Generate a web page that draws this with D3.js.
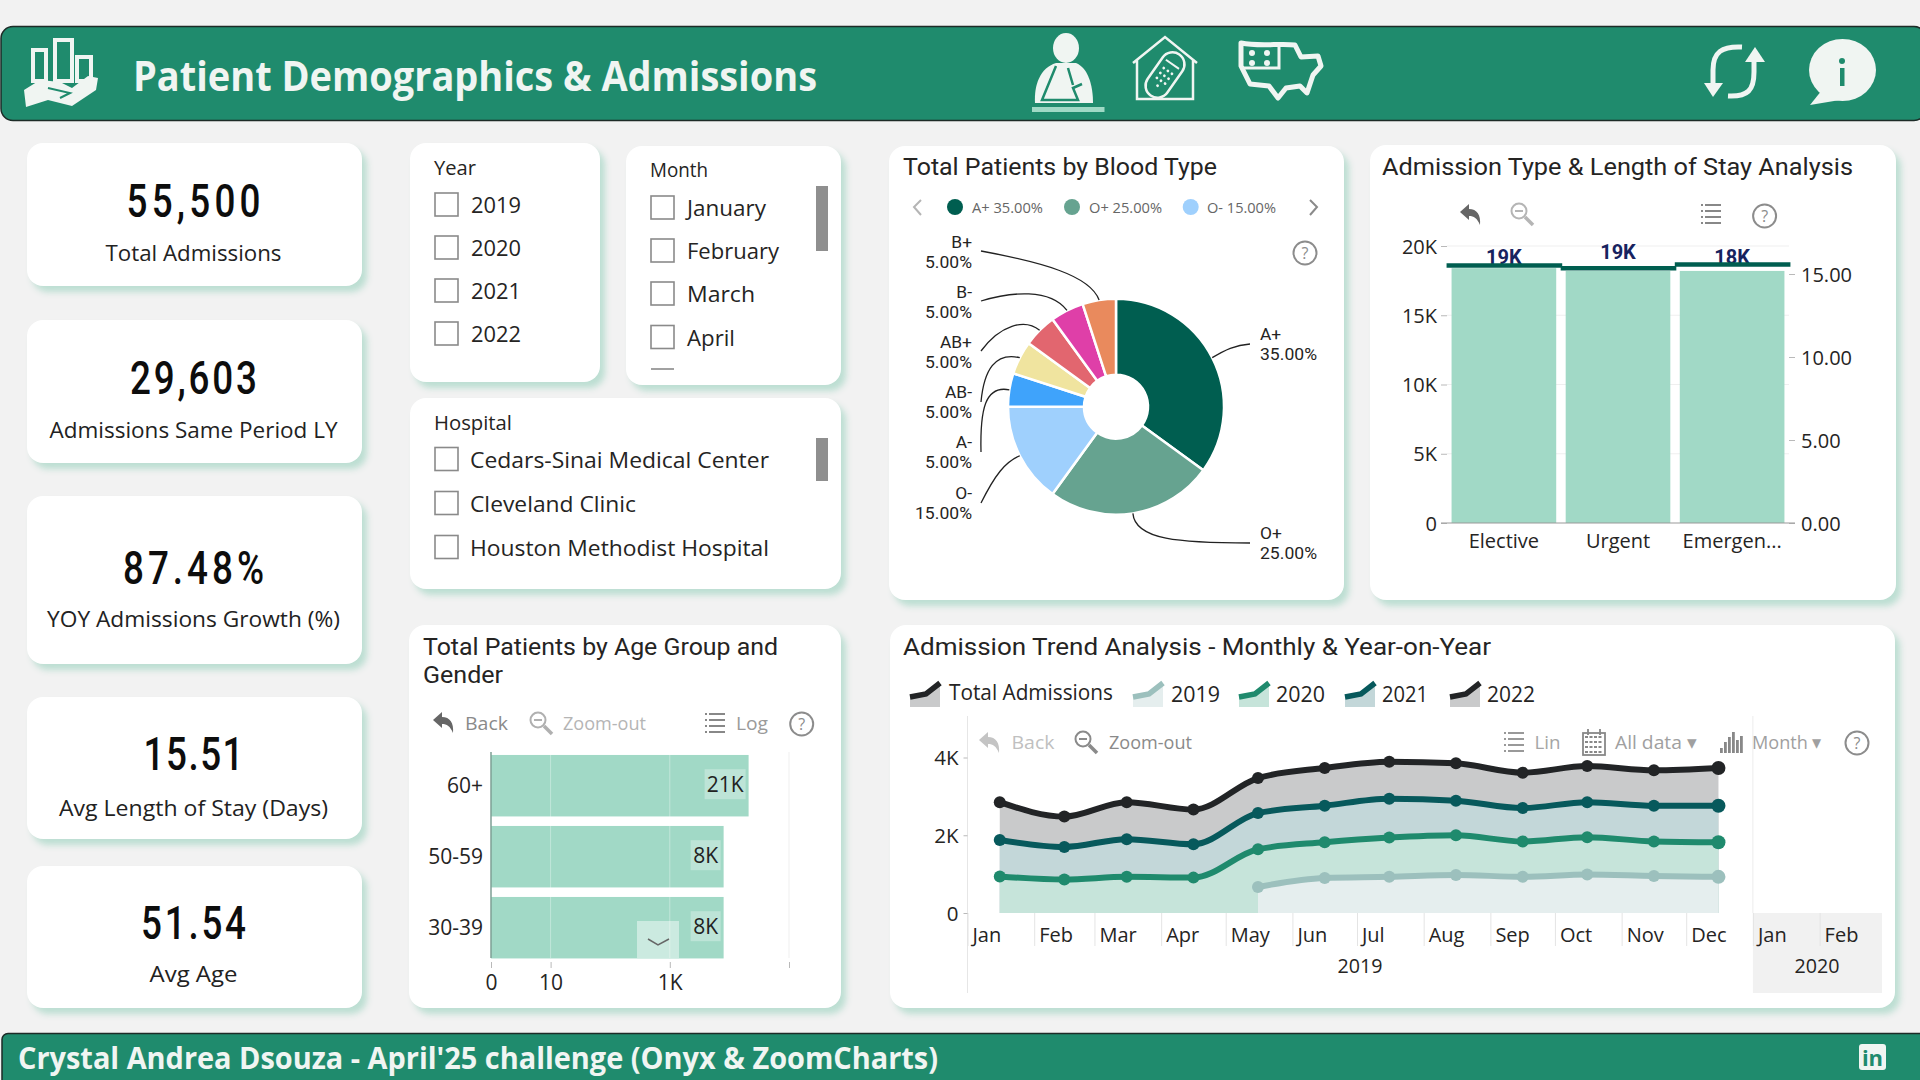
<!DOCTYPE html>
<html><head><meta charset="utf-8">
<script src="https://cdn.jsdelivr.net/npm/d3@7/dist/d3.min.js"></script>
<style>html,body{margin:0;padding:0;background:#f2f2f2;overflow:hidden}svg{display:block}</style>
</head><body><svg id="c" width="1920" height="1080"></svg>
<script>
// ---------- data ----------
const kpiValues=["55,500","29,603","87.48%","15.51","51.54"];
const kpiLabels=["Total Admissions","Admissions Same Period LY","YOY Admissions Growth (%)","Avg Length of Stay (Days)","Avg Age"];
const years=["2019","2020","2021","2022"];
const monthsSlicer=["January","February","March","April"];
const hospitals=["Cedars-Sinai Medical Center","Cleveland Clinic","Houston Methodist Hospital"];
const bloodTypes=["A+","O+","O-","A-","AB-","AB+","B-","B+"];
const bloodShares=[35,25,15,5,5,5,5,5];
const bloodColors=["#005e50","#66a390","#9fd0fd","#3fa3fb","#f0e49f","#e2666f","#df3fa8","#e98a5d"];
const admissionTypes=["Elective","Urgent","Emergen..."];
const admissionCounts=[18400,18200,18200];
const admissionLabels=["19K","19K","18K"];
const stayDays=[15.51,15.35,15.57];
const ageGroups=["60+","50-59","30-39"];
const agePatients=[21000,8000,8000];
const ageLabels=["21K","8K","8K"];
const trendMonths=["2019-01-16","2019-02-15","2019-03-16","2019-04-16","2019-05-16","2019-06-16","2019-07-16","2019-08-16","2019-09-16","2019-10-16","2019-11-16","2019-12-16"];
const admissions2019=[0,0,0,0,670,900,930,980,930,990,950,930];
const admissions2020=[940,860,930,910,970,920,1010,1020,910,960,890,890];
const admissions2021=[940,840,970,860,930,940,1000,890,860,900,920,940];
const admissions2022=[970,780,950,890,900,970,950,960,910,930,910,970];
const trendYears=["2019","2020","2021","2022"];
const trendLine={"2019":"#9cc0bd","2020":"#1f8a6d","2021":"#07595c","2022":"#222426"};
const trendFill={"2019":"#e5eeee","2020":"#c6e4da","2021":"#c3d7d9","2022":"#c9cacb"};

// ---------- helpers ----------
const SEGOE='"Open Sans","Noto Sans",sans-serif', DIN='Roboto,"Liberation Sans",sans-serif';
const svg=d3.select("#c");
svg.append("rect").attr("width",1920).attr("height",1080).attr("fill","#f2f2f2");
function T(x,y,s,o={}){
  const fam=o.f||SEGOE;
  const t=(o.g||svg).append("text").attr("x",x).attr("y",fam===SEGOE?y-1:y).text(s)
   .attr("dominant-baseline","central")
   .attr("font-family",fam).attr("font-size",o.s||20).attr("font-weight",o.b||400)
   .attr("fill",o.c||"#252423").attr("text-anchor",o.a||"start");
  if(o.w) t.attr("textLength",o.w).attr("lengthAdjust","spacingAndGlyphs");
  return t;
}
function card(x0,y0,x1,y1){
  svg.append("rect").attr("x",x0).attr("y",y0).attr("width",x1-x0).attr("height",y1-y0).attr("rx",16)
   .attr("fill","#fff").style("filter","drop-shadow(5px 6px 3px #bcded2)");
}
function help(x,y){
  svg.append("circle").attr("cx",x).attr("cy",y).attr("r",11.5).attr("fill","#fff").attr("stroke","#8c8c8c").attr("stroke-width",2);
  T(x,y+1,"?",{a:"middle",s:16,c:"#8c8c8c",f:SEGOE});
}
function backIcon(x,y,col){
  svg.append("path").attr("transform",`translate(${x},${y})`).attr("fill",col)
   .attr("d","M-11 -3 L-2 -11 L-2 -6 C6 -6 10 0 9 10 C6 3 3 1 -2 1 L-2 5 Z");
}
function zoomIcon(x,y,col){
  const g=svg.append("g").attr("transform",`translate(${x},${y})`).attr("fill","none").attr("stroke",col);
  g.append("circle").attr("cx",-3).attr("cy",-3).attr("r",7.5).attr("stroke-width",2);
  g.append("path").attr("d","M3 3 L11 11").attr("stroke-width",3.5);
  g.append("path").attr("d","M-7 -3 H1").attr("stroke-width",2);
}
function listIcon(x,y,col){
  const g=svg.append("g").attr("transform",`translate(${x},${y})`).attr("stroke",col).attr("stroke-width",2);
  [-9,-3,3,9].forEach(d=>g.append("path").attr("d",`M-10 ${d} H-8 M-6 ${d} H10`));
}
function calIcon(x,y,col){
  const g=svg.append("g").attr("transform",`translate(${x},${y})`).attr("fill","none").attr("stroke",col).attr("stroke-width",1.8);
  g.append("rect").attr("x",-11).attr("y",-10).attr("width",22).attr("height",22);
  d3.range(-6,12,5).forEach(d=>g.append("path").attr("d",`M-9 ${d} H9`).attr("stroke-dasharray","3 1.5"));
  g.append("path").attr("d","M-6 -14 V-8 M6 -14 V-8");
}
function barsIcon(x,y,col){
  const g=svg.append("g").attr("transform",`translate(${x},${y})`).attr("fill",col);
  [[-11,5],[-7,-1],[-3,-6],[1,-11],[5,-3],[9,-7]].forEach(d=>g.append("rect").attr("x",d[0]).attr("y",d[1]).attr("width",2.8).attr("height",10-d[1]));
}

// ---------- header ----------
const W="#f0f5f2",G="#1f8b6d";
svg.append("rect").attr("x",1).attr("y",26.5).attr("width",1925).attr("height",94).attr("rx",12).attr("fill",G).attr("stroke","#1d2b27").attr("stroke-width",1.5);
T(133,76,"Patient Demographics & Admissions",{s:41,b:700,c:W,w:684});
// logo
[[33,50,13,31],[55,40,17,41],[77,57,14,24]].forEach(r=>svg.append("rect").attr("x",r[0]).attr("y",r[1]).attr("width",r[2]).attr("height",r[3]).attr("fill","none").attr("stroke",W).attr("stroke-width",4));
svg.append("path").attr("fill",W).attr("d","M24 90 L40 80 L60 82 L72 88 L88 76 L98 78 L96 90 L72 106 L48 100 L26 107 Z");
svg.append("path").attr("fill","none").attr("stroke",G).attr("stroke-width",2).attr("d","M48 88 L70 93 L60 98");
// patient
svg.append("ellipse").attr("cx",1066).attr("cy",48).attr("rx",13).attr("ry",15).attr("fill",W);
svg.append("path").attr("fill",W).attr("d","M1035 103 C1034 85 1040 68 1056 63 L1076 63 C1088 68 1093 85 1093 103 Z");
svg.append("path").attr("fill","none").attr("stroke",G).attr("stroke-width",2.5).attr("d","M1056 66 L1042 100 L1078 100 L1073 88 L1082 84 M1073 85 L1068 68");
svg.append("rect").attr("x",1032).attr("y",107).attr("width",72.5).attr("height",5).attr("fill","#9fd9c5");
// hospital
svg.append("path").attr("fill","none").attr("stroke",W).attr("stroke-width",2.5).attr("d","M1133 63 L1165 37 L1197 63 M1137 60 V99 H1193 V60");
svg.append("g").attr("transform","rotate(35 1165 75)").call(g=>{
  g.append("rect").attr("x",1153).attr("y",50).attr("width",24).attr("height",50).attr("rx",12).attr("fill","none").attr("stroke",W).attr("stroke-width",2.5);
  g.append("path").attr("d","M1157 62 H1173").attr("stroke",W).attr("stroke-width",2);
  [[1160,70],[1165,70],[1170,70],[1160,76],[1165,76],[1170,76],[1160,82],[1165,82],[1170,82],[1165,88]].forEach(p=>g.append("circle").attr("cx",p[0]).attr("cy",p[1]).attr("r",1.4).attr("fill",W));
});
// map
svg.append("path").attr("fill","none").attr("stroke",W).attr("stroke-width",5).attr("stroke-linejoin","round")
 .attr("d","M1241 43 C1260 47 1280 43 1295 45 L1301 57 L1318 56 L1321 66 L1313 75 L1307 93 L1300 86 L1286 88 L1278 98 L1269 86 L1250 84 L1241 66 Z");
svg.append("path").attr("fill","none").attr("stroke",W).attr("stroke-width",3).attr("d","M1242 68 H1279 V44");
[1252,1267].forEach(x=>[53,63].forEach(y=>svg.append("circle").attr("cx",x).attr("cy",y).attr("r",3).attr("fill",W)));
// refresh
svg.append("path").attr("fill","none").attr("stroke",W).attr("stroke-width",5).attr("d","M1742 47 C1722 46 1713 52 1713 70 V86");
svg.append("path").attr("fill",W).attr("d","M1704 83 H1723 L1713 97 Z");
svg.append("path").attr("fill","none").attr("stroke",W).attr("stroke-width",5).attr("d","M1728 96 C1748 97 1754 90 1754 72 V60");
svg.append("path").attr("fill",W).attr("d","M1745 62 H1765 L1755 47 Z");
// info
svg.append("ellipse").attr("cx",1842.5).attr("cy",70).attr("rx",33.5).attr("ry",31).attr("fill",W);
svg.append("path").attr("fill",W).attr("d","M1822 90 L1810 105 L1840 100 Z");
svg.append("rect").attr("x",1840).attr("y",68).attr("width",4.5).attr("height",18).attr("fill",G);
svg.append("circle").attr("cx",1842).attr("cy",61).attr("r",3).attr("fill",G);

// ---------- footer ----------
svg.append("rect").attr("x",2).attr("y",1033.5).attr("width",1925).attr("height",60).attr("rx",6).attr("fill",G).attr("stroke","#1d2b27").attr("stroke-width",1.5);
T(18,1058,"Crystal Andrea Dsouza - April'25 challenge (Onyx & ZoomCharts)",{s:31,b:700,c:W,w:920});
svg.append("rect").attr("x",1859).attr("y",1044).attr("width",27).attr("height",26).attr("rx",3).attr("fill",W);
T(1872.5,1058,"in",{a:"middle",s:22,b:700,c:G});

// ---------- KPI cards ----------
const kpiBox=[[143,286,201,253,134,176],[320,463,378,430,127,288],[496,664,568,619,141,293],[697,839,754,808,100,269],[866,1008,923,974,105,88]];
const kpiSquash=.8;
kpiValues.forEach((v,i)=>{
  const b=kpiBox[i]; card(27,b[0],362,b[1]);
  svg.append("text").attr("transform",`translate(193.5,${b[2]}) scale(${kpiSquash},1)`).text(v)
   .attr("dominant-baseline","central").attr("text-anchor","middle").attr("font-family",DIN).attr("font-size",46)
   .attr("font-weight",500).attr("fill","#0d0d0d")
   .attr("textLength",b[4]/kpiSquash).attr("lengthAdjust","spacing");
  T(193.5,b[3],kpiLabels[i],{a:"middle",s:22.5,c:"#222",w:b[5]});
});

// ---------- slicers ----------
function box(x,y){svg.append("rect").attr("x",x).attr("y",y).attr("width",23).attr("height",23).attr("fill","#fff").attr("stroke","#8a8a8a").attr("stroke-width",1.6);}
card(410,143,600,382);
T(434,168,"Year",{s:20,f:SEGOE,w:42});
years.forEach((y,i)=>{const t=[193,236,279,322][i];box(435,t);T(471,t+12,y,{s:22.5,w:50});});
card(626,146,841,385);
T(650,170,"Month",{s:20,w:58});
monthsSlicer.forEach((m,i)=>{const t=[196,239,282,325.5][i];box(651,t);T(687,t+12.5,m,{s:22.5,w:[79,92,68,48][i]});});
svg.append("path").attr("d","M651 369 H674").attr("stroke","#8a8a8a").attr("stroke-width",1.6);
svg.append("rect").attr("x",816).attr("y",186).attr("width",12).attr("height",65).attr("fill","#8f8f8f");
card(410,398,841,589);
T(434,423,"Hospital",{s:20,w:78});
hospitals.forEach((h,i)=>{const c=[459,503,547][i];box(435,c-11.5);T(470,c+1,h,{s:22.5,w:[299,166,299][i]});});
svg.append("rect").attr("x",816).attr("y",438).attr("width",12).attr("height",43).attr("fill","#8f8f8f");

// ---------- blood type donut ----------
card(889,146,1344,600);
T(903,167,"Total Patients by Blood Type",{s:24,f:DIN,w:314});
[[955,972,71,0],[1072,1089,73,1],[1190.7,1207,69,2]].forEach(l=>{
  svg.append("circle").attr("cx",l[0]).attr("cy",207).attr("r",8).attr("fill",bloodColors[l[3]]);
  T(l[1],208,`${bloodTypes[l[3]]} ${bloodShares[l[3]].toFixed(2)}%`,{s:14.5,c:"#666",w:l[2]});
});
svg.append("path").attr("fill","none").attr("stroke","#b5b5b5").attr("stroke-width",2).attr("d","M921 200 L914 207 L921 215");
svg.append("path").attr("fill","none").attr("stroke","#8a8a8a").attr("stroke-width",2).attr("d","M1310 200 L1317 207 L1310 215");
help(1305,253);
const cx=1116,cy=406.7,Ro=108,Ri=32;
const pie=d3.pie().sort(null)(bloodShares);
const arc=d3.arc().innerRadius(Ri).outerRadius(Ro);
const pg=svg.append("g").attr("transform",`translate(${cx},${cy})`);
pg.selectAll("path").data(pie).join("path").attr("d",arc).attr("fill",(d,i)=>bloodColors[i]).attr("stroke","#fff").attr("stroke-width",2.5);
const leaderAnchor=[[1250,344],[1250,543],[981,503],[981,452],[981,402],[981,351],[981,301],[981,251]];
const leaderCtrl=[[1235,345,1225,350],[1180,543,1135,540],[995,475,1005,462],[980,410,985,385],[984,370,995,352],[1000,325,1025,318],[1011,292,1050,288],[1040,262,1090,275]];
const labelTop=[334,533,493,442,392,342,292,242];
pie.forEach((d,i)=>{
  const a=(d.startAngle+d.endAngle)/2, ex=cx+Ro*Math.sin(a), ey=cy-Ro*Math.cos(a);
  const A=leaderAnchor[i],C=leaderCtrl[i];
  svg.append("path").attr("fill","none").attr("stroke","#222").attr("stroke-width",1.3)
   .attr("d",`M${A[0]} ${A[1]} C${C[0]} ${C[1]} ${C[2]} ${C[3]} ${ex} ${ey}`);
  const right=i<2, x=right?1260:972, an=right?"start":"end";
  T(x,labelTop[i]-.5,bloodTypes[i],{a:an,s:17.4,f:DIN});
  T(x,labelTop[i]+20.1,d.data.toFixed(2)+"%",{a:an,s:17.4,f:DIN,w:d.data>=10?57:47});
});

// ---------- admission type combo ----------
card(1370,145,1896,600);
T(1382,167,"Admission Type & Length of Stay Analysis",{s:24,f:DIN,w:471});
backIcon(1471,215,"#666");zoomIcon(1522,214,"#b5b5b5");listIcon(1711,214,"#888");help(1764.6,216);
const bx=d3.scaleBand().domain(admissionTypes).range([1447,1789]).paddingInner(.083).paddingOuter(.04);
const byL=d3.scaleLinear().domain([0,20000]).range([523,246]);
const byR=d3.scaleLinear().domain([0,15]).range([523,274]);
const gridB=svg.append("g");
gridB.selectAll("line").data([5000,10000,15000,20000]).join("line").attr("x1",1447).attr("x2",1789).attr("y1",byL).attr("y2",byL).attr("stroke","#efefef");
svg.append("g").selectAll("rect").data(admissionCounts).join("rect")
 .attr("x",(d,i)=>bx(admissionTypes[i])).attr("width",bx.bandwidth()).attr("y",d=>byL(d)).attr("height",d=>523-byL(d)).attr("fill","#a1d9c6");
function styleAxis(g,size){
  g.select(".domain").remove();
  g.selectAll("text").attr("font-family",SEGOE).attr("font-size",size||20).attr("fill","#252423").attr("dy",".36em");
  g.selectAll("line").attr("stroke","#b9b9b9");
}
const axL=svg.append("g").attr("transform","translate(1447,0)")
 .call(d3.axisLeft(byL).tickValues([0,5000,10000,15000,20000]).tickFormat(d=>d?d/1000+"K":"0").tickSize(6).tickPadding(4));
styleAxis(axL);
const axR=svg.append("g").attr("transform","translate(1789,0)")
 .call(d3.axisRight(byR).tickValues([0,5,10,15]).tickFormat(d3.format(".2f")).tickSize(6).tickPadding(6));
styleAxis(axR);
svg.append("path").attr("d","M1441 523 H1795").attr("stroke","#999").attr("stroke-width",1);
const axB=svg.append("g").attr("transform","translate(0,523)").call(d3.axisBottom(bx).tickSize(0).tickPadding(9));
styleAxis(axB);axB.selectAll("text").attr("dominant-baseline","central").attr("dy",0).attr("y",17);
const labelOffset=[-9,-16,-8];
admissionLabels.forEach((l,i)=>T(bx(admissionTypes[i])+bx.bandwidth()/2,byR(stayDays[i])+labelOffset[i],l,{a:"middle",s:20,b:700,c:"#17235f",f:DIN}));
admissionTypes.forEach((c,i)=>{
  svg.append("path").attr("d",`M${bx(c)-5} ${byR(stayDays[i])} H${bx(c)+bx.bandwidth()+6}`).attr("stroke","#005e50").attr("stroke-width",4.5);
});

// ---------- age chart ----------
card(409,625,841,1008);
T(423,647,"Total Patients by Age Group and",{s:24,f:DIN,w:355});
T(423,675,"Gender",{s:24,f:DIN,w:80});
backIcon(444,723,"#666");T(465,724,"Back",{s:19,c:"#8a8a8a",w:43});
zoomIcon(541,723,"#b0b0b0");T(563,724,"Zoom-out",{s:19,c:"#b5b5b5",w:83});
listIcon(715,723,"#888");T(736,724,"Log",{s:19,c:"#9a9a9a",w:32});help(801.7,724);
const ax=d3.scaleLog().domain([1,100000]).range([491,789]);
const ay=d3.scaleBand().domain(ageGroups).range([750.2,963.2]).paddingInner(.134).paddingOuter(.067);
svg.append("g").selectAll("rect").data(agePatients).join("rect")
 .attr("x",491).attr("y",(d,i)=>ay(ageGroups[i])).attr("width",d=>ax(d)-491).attr("height",ay.bandwidth()).attr("fill","#a1d9c6");
svg.append("g").selectAll("line").data([10,1000,100000]).join("line").attr("x1",d=>ax(d)).attr("x2",d=>ax(d)).attr("y1",752).attr("y2",958).attr("stroke","#ffffff").attr("stroke-opacity",.35);
svg.append("path").attr("d",`M${ax(100000)} 752 V958`).attr("stroke","#efefef");
svg.append("path").attr("d","M491 752 V958").attr("stroke","#7e9f94").attr("stroke-width",1.5);
agePatients.forEach((v,i)=>{
  const wd=ageLabels[i].length>2?41:30, xr=ax(v)-3, yc=ay(ageGroups[i])+ay.bandwidth()/2-1.5;
  svg.append("rect").attr("x",xr-wd).attr("y",yc-15).attr("width",wd).attr("height",30).attr("fill","#fff").attr("opacity",.3);
  T(xr-wd/2,yc+1,ageLabels[i],{a:"middle",s:21,c:"#222"});
});
svg.append("rect").attr("x",637).attr("y",921).attr("width",42).attr("height",37).attr("fill","#fff").attr("opacity",.45);
svg.append("path").attr("d","M648 939 L658 945 L669 939").attr("fill","none").attr("stroke","#666").attr("stroke-width",1.5);
const axA=svg.append("g").attr("transform","translate(0,962)")
 .call(d3.axisBottom(ax).tickValues([1,10,1000,100000]).tickFormat(d=>({1:"0",10:"10",1000:"1K",100000:""}[d])).tickSize(6).tickPadding(8));
styleAxis(axA,21);axA.selectAll("text").attr("dy",0).attr("y",20).attr("dominant-baseline","central");
const axAY=svg.append("g").attr("transform","translate(491,0)").call(d3.axisLeft(ay).tickSize(0).tickPadding(8));
styleAxis(axAY,21);

// ---------- trend chart ----------
card(890,625,1895,1008);
T(903,647,"Admission Trend Analysis - Monthly & Year-on-Year",{s:24,f:DIN,w:588});
const legendX=[[910,949,164,"2022","Total Admissions"],[1133,1171,49,"2019","2019"],[1239,1276,49,"2020","2020"],[1345,1382,46,"2021","2021"],[1450,1487,48,"2022","2022"]];
legendX.forEach((l,i)=>{
  const g=svg.append("g").attr("transform",`translate(${l[0]},682)`);
  g.append("path").attr("d","M0 15 L18 13 L30 1 V25 H0 Z").attr("fill",trendFill[l[3]]);
  g.append("path").attr("d","M0 15 L16 12 L30 1").attr("fill","none").attr("stroke",trendLine[l[3]]).attr("stroke-width",5.5);
  T(l[1],i?695:692.5,l[4],{s:21,w:l[2]});
});
const tx=d3.scaleTime().domain([new Date(2019,0,1),new Date(2020,2,1)]).range([967.5,1882]);
const ty=d3.scaleLinear().domain([0,4000]).range([913,757.5]);
svg.append("rect").attr("x",tx(new Date(2020,0,1))).attr("y",913).attr("width",1882-tx(new Date(2020,0,1))).attr("height",80).attr("fill","#f1f1f1");
svg.append("path").attr("d","M967.5 716 V993").attr("stroke","#e6e6e6");
svg.append("path").attr("d",`M${tx(new Date(2020,0,1))} 716 V913`).attr("stroke","#ececec");
const trendDates=trendMonths.map(s=>d3.timeParse("%Y-%m-%d")(s));
const table=trendDates.map((d,i)=>({date:d,"2019":admissions2019[i],"2020":admissions2020[i],"2021":admissions2021[i],"2022":admissions2022[i]}));
const stack=d3.stack().keys(trendYears)(table);
const def=(s)=>(p)=>!(s.key==="2019"&&p.data["2019"]===0);
[...stack].reverse().forEach(s=>{
  svg.append("path").datum(s).attr("fill",trendFill[s.key]).attr("d",
    d3.area().defined(def(s)).x(p=>tx(p.data.date)).y0(913).y1(p=>ty(p[1])).curve(d3.curveMonotoneX));
});
const axT=svg.append("g").attr("transform","translate(0,913)")
 .call(d3.axisBottom(tx).tickValues(d3.timeMonth.range(new Date(2019,0,1),new Date(2020,2,1))).tickFormat(d3.timeFormat("%b")).tickSize(33).tickPadding(0));
styleAxis(axT,20);axT.selectAll("line").attr("stroke","#e4e4e4");
axT.selectAll("text").attr("text-anchor","start").attr("x",4.5).attr("y",21.5).attr("dy",0).attr("dominant-baseline","central");
T(1360,966,"2019",{a:"middle",s:20,w:45});
T(1817,966,"2020",{a:"middle",s:20,w:45});
const axTY=svg.append("g").attr("transform","translate(967.5,0)")
 .call(d3.axisLeft(ty).tickValues([0,2000,4000]).tickFormat(d=>d?d/1000+"K":"0").tickSize(4).tickPadding(5));
styleAxis(axTY,20.5);
stack.forEach(s=>{
  svg.append("path").datum(s).attr("fill","none").attr("stroke",trendLine[s.key]).attr("stroke-width",6).attr("stroke-linejoin","round")
   .attr("d",d3.line().defined(def(s)).x(p=>tx(p.data.date)).y(p=>ty(p[1])).curve(d3.curveMonotoneX));
  svg.append("g").selectAll("circle").data(s.filter(def(s))).join("circle")
   .attr("cx",p=>tx(p.data.date)).attr("cy",p=>ty(p[1])).attr("r",p=>+p.data.date===+trendDates[11]?7:6).attr("fill",trendLine[s.key]);
});
backIcon(990,743,"#c4c4c4");T(1011.5,743,"Back",{s:19,c:"#c0c0c0",w:43});
zoomIcon(1086,742,"#8a8a8a");T(1109,743,"Zoom-out",{s:19,c:"#8a8a8a",w:83});
listIcon(1514,742,"#999");T(1534.5,743,"Lin",{s:19,c:"#a5a5a5",w:26});
calIcon(1594,743,"#888");T(1615,743,"All data ▾",{s:19,c:"#a0a0a0",w:82});
barsIcon(1731,743,"#888");T(1752,743,"Month ▾",{s:19,c:"#a0a0a0",w:70});
help(1857,743);
</script></body></html>
